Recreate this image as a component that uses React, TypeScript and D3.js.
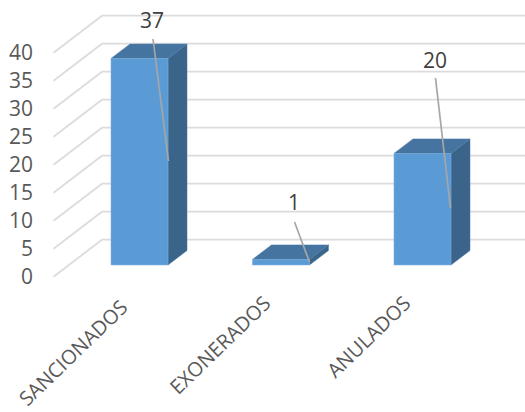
import React from "react";
import * as d3 from "d3";

const categories = ["SANCIONADOS", "EXONERADOS", "ANULADOS"];
const values = [37, 1, 20];
const ticks = [0, 5, 10, 15, 20, 25, 30, 35, 40];

const W = 525, H = 412;
const FONT = "'Open Sans', sans-serif";
// wall grid
const yBack = d3.scaleLinear().domain([0, 40]).range([239.7, 15.7]);
const yFront = d3.scaleLinear().domain([0, 40]).range([276.7, 52.7]);
// bar front faces
const yBar = d3.scaleLinear().domain([0, 40]).range([265, 41.8]);
const x = d3.scaleBand().domain(categories).range([40.25, 521.75]).paddingInner(0.597).paddingOuter(0.5);
const dx = 19, dy = -14.5;

const labelPos = [
  { x: 152, y: 27.5, lx1: 153, ly1: 39, lx2: 168.5, ly2: 161 },
  { x: 294, y: 210, lx1: 294.5, ly1: 222, lx2: 309.5, ly2: 262 },
  { x: 435, y: 67.5, lx1: 435.5, ly1: 78, lx2: 450.5, ly2: 208 },
];
const catEnd = [
  { x: 129, y: 309 },
  { x: 272, y: 305 },
  { x: 412, y: 305 },
];

export default function App() {
  return (
    <svg width={W} height={H} style={{ position: "absolute", left: 0, top: 0, background: "#fff" }}>
      <g stroke="#dcdcdc" strokeWidth={1.8} fill="none">
        {ticks.map((t) => (
          <path key={t} d={`M53.5,${yFront(t)}L102,${yBack(t)}L${W},${yBack(t)}`} />
        ))}
      </g>
      {ticks.map((t) => (
        <text key={t} x={33} y={yFront(t) + 7} textAnchor="end" fontFamily={FONT} fontSize={21} fill="#595959">
          {t}
        </text>
      ))}
      {categories.map((c, i) => {
        const x0 = x(c)!, x1 = x0 + x.bandwidth();
        const yt = yBar(values[i]), yb = yBar(0);
        return (
          <g key={c}>
            <path d={`M${x1},${yt}L${x1 + dx},${yt + dy}L${x1 + dx},${yb + dy}L${x1},${yb}Z`} fill="#3a6489" stroke="#4a7aa5" strokeWidth={0.5} />
            <path d={`M${x0},${yt}L${x0 + dx},${yt + dy}L${x1 + dx},${yt + dy}L${x1},${yt}Z`} fill="#44749f" stroke="#4a7aa5" strokeWidth={0.5} />
            <rect x={x0} y={yt} width={x.bandwidth()} height={yb - yt} fill="#5b9bd5" stroke="#7fb0dd" strokeWidth={0.5} />
          </g>
        );
      })}
      {values.map((v, i) => {
        const p = labelPos[i];
        return (
          <g key={i}>
            <line x1={p.lx1} y1={p.ly1} x2={p.lx2} y2={p.ly2} stroke="#a6a6a6" strokeWidth={1.7} />
            <text x={p.x} y={p.y} textAnchor="middle" fontFamily={FONT} fontSize={21} fill="#404040">
              {v}
            </text>
          </g>
        );
      })}
      {categories.map((c, i) => (
        <text
          key={c}
          transform={`translate(${catEnd[i].x},${catEnd[i].y}) rotate(-44)`}
          textAnchor="end"
          fontFamily={FONT}
          fontSize={20}
          fill="#595959"
        >
          {c}
        </text>
      ))}
    </svg>
  );
}
